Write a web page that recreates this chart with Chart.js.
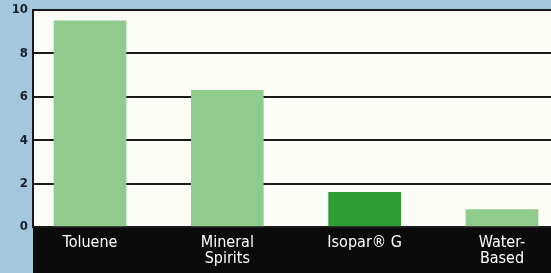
<!DOCTYPE html>
<html lang="en">
<head>
    <meta charset="UTF-8">
    <title>Solvent chart</title>
    <script src="https://cdn.jsdelivr.net/npm/chart.js"></script>
    <style>
        html, body { margin: 0; padding: 0; background: #a4c7de; }
        #wrap { width: 551px; height: 273px; position: relative; }
    </style>
</head>
<body>
<div id="wrap"><canvas id="solventChart"></canvas></div>
<script>
    // data
    const categories = ['Toluene', ['Mineral', 'Spirits'], 'Isopar® G', ['Water-', 'Based']];
    const values = [9.5, 6.3, 1.6, 0.8];
    const yTicks = [0, 2, 4, 6, 8, 10];

    const barColors = ['#8fcb8c', '#8fcb8c', '#2e9d35', '#8fcb8c'];
    const FONT = "'Liberation Sans Narrow', 'DejaVu Sans Condensed', 'Liberation Sans', sans-serif";
    const X_MIN = -0.415, X_MAX = 3.357;

    // background panels: blue page, white plot, black label band
    const panels = {
        id: 'panels',
        beforeDraw(chart) {
            const {ctx, chartArea: a, width, height} = chart;
            ctx.save();
            ctx.fillStyle = '#a4c7de';
            ctx.fillRect(0, 0, width, height);
            ctx.fillStyle = '#fdfdf8';
            ctx.fillRect(a.left, a.top, a.right - a.left, a.bottom - a.top);
            ctx.fillStyle = '#0b0b0b';
            ctx.fillRect(a.left, a.bottom, width - a.left, height - a.bottom);
            ctx.restore();
        }
    };

    const ctx = document.getElementById('solventChart').getContext('2d');
    new Chart(ctx, {
        type: 'bar',
        data: {
            datasets: [{
                data: values.map((v, i) => ({x: i, y: v})),
                backgroundColor: barColors,
                borderWidth: 0,
                barThickness: 72
            }]
        },
        options: {
            responsive: true,
            maintainAspectRatio: false,
            animation: false,
            layout: {padding: {top: 10, right: 0, left: 0, bottom: 0}},
            plugins: {legend: {display: false}, tooltip: {enabled: false}},
            scales: {
                x: {
                    type: 'linear',
                    offset: false,
                    bounds: 'data',
                    min: X_MIN,
                    max: X_MAX,
                    afterBuildTicks: s => {
                        s.ticks = categories.map((c, i) => ({value: i}));
                        s.min = X_MIN;
                        s.max = X_MAX;
                    },
                    afterFit: s => { s.height = 46; s.paddingLeft = 0; s.paddingRight = 0; },
                    grid: {display: false, drawTicks: false},
                    border: {display: false},
                    ticks: {
                        autoSkip: false,
                        maxRotation: 0,
                        padding: 7,
                        color: '#ffffff',
                        font: {family: FONT, size: 16, lineHeight: 1.05},
                        callback: v => categories[Math.round(v)]
                    }
                },
                y: {
                    min: 0,
                    max: 10,
                    afterBuildTicks: s => { s.ticks = yTicks.map(v => ({value: v})); },
                    afterFit: s => { s.width = 33; s.paddingTop = 0; s.paddingBottom = 0; },
                    grid: {color: '#1a1a1a', lineWidth: 2, drawTicks: false},
                    border: {display: true, color: '#1a1a1a', width: 2},
                    ticks: {
                        padding: 5,
                        color: '#16202c',
                        font: {family: FONT, size: 13, weight: 'bold'}
                    }
                }
            }
        },
        plugins: [panels]
    });
</script>
</body>
</html>
